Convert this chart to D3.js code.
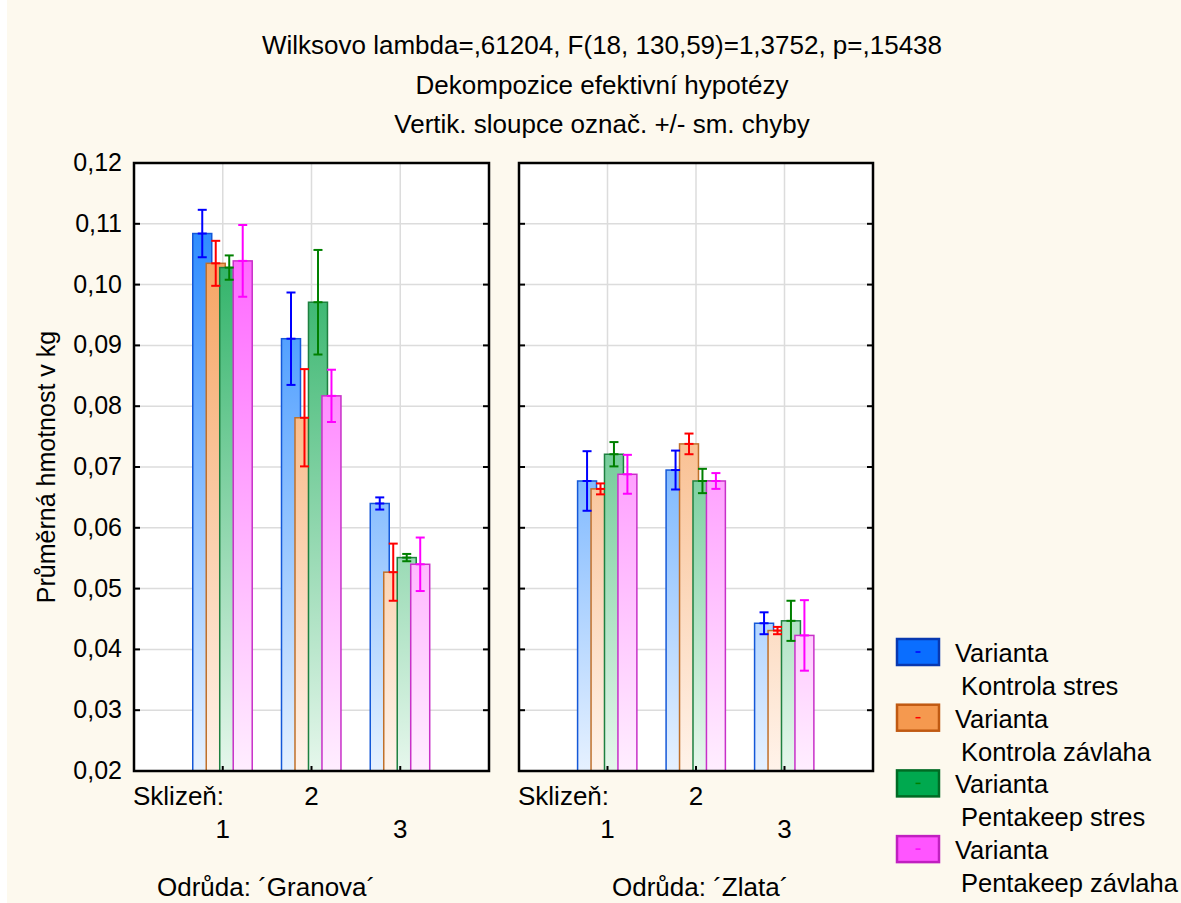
<!DOCTYPE html>
<html>
<head>
<meta charset="utf-8">
<script src="https://cdn.jsdelivr.net/npm/d3@7"></script>
<style>
  body { margin: 0; background: #fff; }
  text { font-family: "Liberation Sans", Arial, sans-serif; fill: #000; }
</style>
</head>
<body>
<div id="chart"></div>
<script>
// --- data ---
const titleLines = [
  "Wilksovo lambda=,61204, F(18, 130,59)=1,3752, p=,15438",
  "Dekompozice efektivní hypotézy",
  "Vertik. sloupce označ. +/- sm. chyby"
];
const harvests = ["1", "2", "3"];
const varieties = ["´Granova´", "´Zlata´"];
const variants = ["Kontrola stres", "Kontrola závlaha", "Pentakeep stres", "Pentakeep závlaha"];

// means[harvest][variant]
const meansGranova = [
  [0.1084, 0.1035, 0.1028, 0.1039],
  [0.0911, 0.0781, 0.0971, 0.0817],
  [0.0640, 0.0527, 0.0551, 0.0540]
];
const seGranova = [
  [0.0039, 0.0037, 0.0020, 0.0059],
  [0.0076, 0.0080, 0.0086, 0.0043],
  [0.0010, 0.0047, 0.0006, 0.0044]
];
const meansZlata = [
  [0.0677, 0.0664, 0.0721, 0.0688],
  [0.0695, 0.0738, 0.0677, 0.0677],
  [0.0443, 0.0431, 0.0447, 0.0423]
];
const seZlata = [
  [0.0049, 0.0009, 0.0020, 0.0032],
  [0.0032, 0.0017, 0.0020, 0.0013],
  [0.0018, 0.0006, 0.0033, 0.0058]
];
const yTicks = [0.02, 0.03, 0.04, 0.05, 0.06, 0.07, 0.08, 0.09, 0.10, 0.11, 0.12];

// --- styling ---
const fillTop    = ["#1780ff", "#f4964a", "#0ea650", "#ff50ff"];
const fillBottom = ["#e6f1ff", "#fff3ea", "#e6f7ec", "#ffeeff"];
const barStroke  = ["#1458d8", "#c0702a", "#1e8040", "#c830c8"];
const errColor   = ["#0000ff", "#ff0000", "#008000", "#ff00ff"];
const legendFill = ["#0a6eff", "#f5994f", "#00a94f", "#ff55ff"];
const legendLine = ["#0838b0", "#c05a12", "#006b24", "#c020c0"];

const width = 1181, height = 903;
const plotTop = 163, plotBottom = 771;
const panels = [
  { left: 134, right: 489, means: meansGranova, se: seGranova, name: varieties[0], labelX: 157 },
  { left: 519, right: 873, means: meansZlata, se: seZlata, name: varieties[1], labelX: 612 }
];

const svg = d3.select("#chart").append("svg")
  .attr("width", width)
  .attr("height", height);

svg.append("rect")
  .attr("x", 7).attr("y", 0)
  .attr("width", width - 7).attr("height", height)
  .attr("fill", "#fdf9ee");

// gradients span the whole plot height
const defs = svg.append("defs");
variants.forEach((v, i) => {
  const g = defs.append("linearGradient")
    .attr("id", "grad" + i)
    .attr("gradientUnits", "userSpaceOnUse")
    .attr("x1", 0).attr("x2", 0)
    .attr("y1", plotTop).attr("y2", plotBottom);
  g.append("stop").attr("offset", "0%").attr("stop-color", fillTop[i]);
  g.append("stop").attr("offset", "100%").attr("stop-color", fillBottom[i]);
});

// titles
svg.selectAll(".title")
  .data(titleLines)
  .join("text")
  .attr("class", "title")
  .attr("x", 602)
  .attr("y", (d, i) => 54 + i * 39.5)
  .attr("text-anchor", "middle")
  .style("font-size", "26px")
  .text(d => d);

const y = d3.scaleLinear().domain([0.02, 0.12]).range([plotBottom, plotTop]);
const fmt = d => d3.format(".2f")(d).replace(".", ",");

// y tick labels on the left panel
svg.append("g")
  .selectAll("text")
  .data(yTicks)
  .join("text")
  .attr("x", 122)
  .attr("y", d => y(d) + 8)
  .attr("text-anchor", "end")
  .style("font-size", "25px")
  .text(fmt);

svg.append("text")
  .attr("transform", `translate(55,${(plotTop + plotBottom) / 2}) rotate(-90)`)
  .attr("text-anchor", "middle")
  .style("font-size", "25px")
  .text("Průměrná hmotnost v kg");

panels.forEach(p => {
  const x = d3.scaleLinear().domain([0, 4]).range([p.left, p.right]);
  const step = x(1) - x(0);
  const barW = step * 0.214;
  const off = d3.scaleLinear().domain([0, 3]).range([-step * 0.338 + barW / 2, step * 0.118 + barW / 2]);

  const g = svg.append("g");

  g.append("rect")
    .attr("x", p.left).attr("y", plotTop)
    .attr("width", p.right - p.left).attr("height", plotBottom - plotTop)
    .attr("fill", "#fff");

  // grid
  g.selectAll(".hgrid")
    .data(yTicks.slice(1, -1))
    .join("line")
    .attr("x1", p.left).attr("x2", p.right)
    .attr("y1", d => y(d)).attr("y2", d => y(d))
    .attr("stroke", "#dcdcdc").attr("stroke-width", 1.5);
  g.selectAll(".vgrid")
    .data(harvests)
    .join("line")
    .attr("x1", (d, i) => x(i + 1)).attr("x2", (d, i) => x(i + 1))
    .attr("y1", plotTop).attr("y2", plotBottom)
    .attr("stroke", "#dcdcdc").attr("stroke-width", 1.5);

  const rows = [];
  p.means.forEach((row, h) => row.forEach((m, v) => rows.push({ h, v, m, se: p.se[h][v] })));

  g.selectAll(".bar")
    .data(rows)
    .join("rect")
    .attr("x", d => x(d.h + 1) + off(d.v) - barW / 2)
    .attr("y", d => y(d.m))
    .attr("width", barW)
    .attr("height", d => plotBottom - y(d.m))
    .attr("fill", d => `url(#grad${d.v})`)
    .attr("stroke", d => barStroke[d.v])
    .attr("stroke-width", 1.5);

  // error bars
  const eb = g.selectAll(".err")
    .data(rows)
    .join("g")
    .attr("stroke", d => errColor[d.v])
    .attr("stroke-width", 2)
    .attr("transform", d => `translate(${x(d.h + 1) + off(d.v)},0)`);
  eb.append("line")
    .attr("y1", d => y(d.m + d.se)).attr("y2", d => y(d.m - d.se));
  [d => d.m + d.se, d => d.m - d.se, d => d.m].forEach(f => {
    eb.append("line")
      .attr("x1", -4.5).attr("x2", 4.5)
      .attr("y1", d => y(f(d))).attr("y2", d => y(f(d)));
  });

  // ticks pointing inward
  g.selectAll(".ytl").data(yTicks).join("line")
    .attr("x1", p.left).attr("x2", p.left + 6)
    .attr("y1", d => y(d)).attr("y2", d => y(d))
    .attr("stroke", "#000").attr("stroke-width", 2);
  g.selectAll(".ytr").data(yTicks).join("line")
    .attr("x1", p.right - 6).attr("x2", p.right)
    .attr("y1", d => y(d)).attr("y2", d => y(d))
    .attr("stroke", "#000").attr("stroke-width", 2);
  g.selectAll(".xt").data(harvests).join("line")
    .attr("x1", (d, i) => x(i + 1)).attr("x2", (d, i) => x(i + 1))
    .attr("y1", plotBottom - 5).attr("y2", plotBottom)
    .attr("stroke", "#000").attr("stroke-width", 2);

  g.append("rect")
    .attr("x", p.left).attr("y", plotTop)
    .attr("width", p.right - p.left).attr("height", plotBottom - plotTop)
    .attr("fill", "none").attr("stroke", "#000").attr("stroke-width", 2.5);

  // x labels
  g.append("text")
    .attr("x", p.left - 1).attr("y", 805)
    .style("font-size", "26px")
    .text("Sklizeň:");
  g.selectAll(".xl").data(harvests).join("text")
    .attr("x", (d, i) => x(i + 1))
    .attr("y", (d, i) => i % 2 === 1 ? 805 : 838)
    .attr("text-anchor", "middle")
    .style("font-size", "26px")
    .text(d => d);
  g.append("text")
    .attr("x", p.labelX).attr("y", 896)
    .style("font-size", "26px")
    .text("Odrůda: " + p.name);
});

// legend
const lg = svg.append("g").attr("transform", "translate(897,639)");
const item = lg.selectAll("g").data(variants).join("g")
  .attr("transform", (d, i) => `translate(0,${i * 65.7})`);
item.append("rect")
  .attr("width", 42).attr("height", 26)
  .attr("fill", (d, i) => legendFill[i])
  .attr("stroke", (d, i) => legendLine[i])
  .attr("stroke-width", 2.5);
item.append("line")
  .attr("x1", 18.5).attr("x2", 23.5)
  .attr("y1", 13).attr("y2", 13)
  .attr("stroke", (d, i) => errColor[i])
  .attr("stroke-width", 1.5);
item.append("text")
  .attr("x", 58).attr("y", 23)
  .style("font-size", "25.5px")
  .text("Varianta");
item.append("text")
  .attr("x", 64).attr("y", 56)
  .style("font-size", "25.5px")
  .text(d => d);
</script>
</body>
</html>
